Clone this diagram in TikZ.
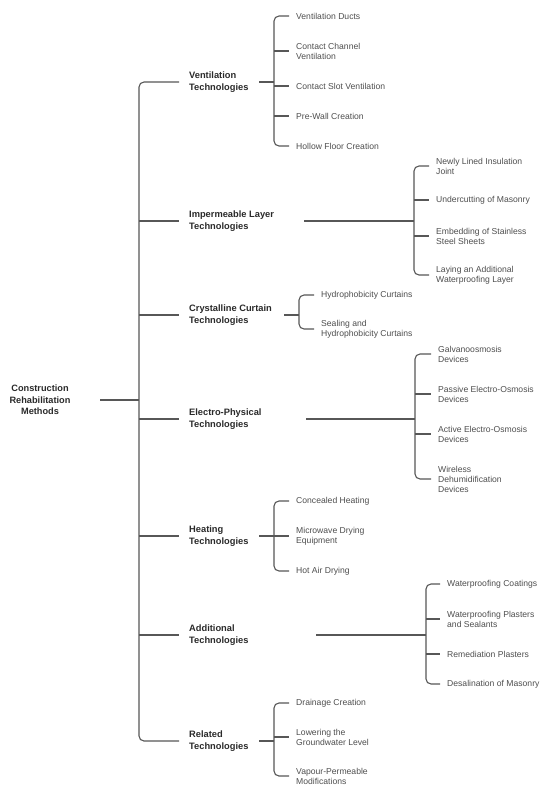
\documentclass[tikz,border=0pt]{standalone}
\usepackage{fontspec}
\setmainfont{Liberation Sans}
\definecolor{lncol}{HTML}{575757}
\definecolor{catcol}{HTML}{2A2A2A}
\definecolor{leafcol}{HTML}{4F4F4F}
\begin{document}
\begin{tikzpicture}[x=1pt,y=-1pt,
  ln/.style={draw=lncol, line width=1.1pt},
  br/.style={ln, rounded corners=5pt},
  rootbox/.style={minimum width=120pt, inner xsep=0pt, inner ysep=0pt, align=center, font=\fontsize{9.2}{11.5}\selectfont\bfseries, text=catcol},
  cat/.style={anchor=west, inner xsep=10pt, inner ysep=0pt, align=left, font=\fontsize{9.3}{12}\selectfont\bfseries, text=catcol},
  leaf/.style={anchor=west, inner xsep=7pt, inner ysep=0pt, align=left, font=\fontsize{8.6}{10}\selectfont, text=leafcol}
]
\useasboundingbox[fill=white] (0,0) rectangle (550,793);

% root
\node[rootbox] (root) at (40,400) {Construction\\Rehabilitation\\Methods};
\coordinate (trunk) at (139,400);

% categories
\node[cat] (vent) at (179,82) {Ventilation\\Technologies};
\node[cat] (imp) at (179,221) {Impermeable Layer\\Technologies};
\node[cat] (cry) at (179,315) {Crystalline Curtain\\Technologies};
\node[cat] (ele) at (179,419) {Electro-Physical\\Technologies};
\node[cat] (hea) at (179,536) {Heating\\Technologies};
\node[cat] (add) at (179,635) {Additional\\Technologies};
\node[cat] (rel) at (179,741) {Related\\Technologies};

\draw[ln] (root.east) -- (trunk);
\draw[br] (vent.west) -- (vent.west -| trunk) -- (rel.west -| trunk) -- (rel.west);
\foreach \c in {imp,cry,ele,hea,add} \draw[ln] (\c.west -| trunk) -- (\c.west);

% outgoing lines of categories
\coordinate (ventO) at (259,82);  \coordinate (ventJ) at (274,82);
\coordinate (impO) at (304,221);  \coordinate (impJ) at (414,221);
\coordinate (cryO) at (284,315);  \coordinate (cryJ) at (299,315);
\coordinate (eleO) at (306,419);  \coordinate (eleJ) at (415,419);
\coordinate (heaO) at (259,536);  \coordinate (heaJ) at (274,536);
\coordinate (addO) at (316,635);  \coordinate (addJ) at (426,635);
\coordinate (relO) at (259,741);  \coordinate (relJ) at (274,741);
\foreach \c in {vent,imp,cry,ele,hea,add,rel} \draw[ln] (\c O) -- (\c J);

% Ventilation leaves
\node[leaf] (v1) at (289,16) {Ventilation Ducts};
\node[leaf] (v2) at (289,51) {Contact Channel\\Ventilation};
\node[leaf] (v3) at (289,86) {Contact Slot Ventilation};
\node[leaf] (v4) at (289,116) {Pre-Wall Creation};
\node[leaf] (v5) at (289,146) {Hollow Floor Creation};
\draw[br] (v1.west) -- (v1.west -| ventJ) -- (v5.west -| ventJ) -- (v5.west);
\foreach \c in {v2,v3,v4} \draw[ln] (\c.west -| ventJ) -- (\c.west);

% Impermeable leaves
\node[leaf] (i1) at (429,166) {Newly Lined Insulation\\Joint};
\node[leaf] (i2) at (429,200) {Undercutting of Masonry};
\node[leaf] (i3) at (429,236) {Embedding of Stainless\\Steel Sheets};
\node[leaf] (i4) at (429,275) {Laying an Additional\\Waterproofing Layer};
\draw[br] (i1.west) -- (i1.west -| impJ) -- (i4.west -| impJ) -- (i4.west);
\foreach \c in {i2,i3} \draw[ln] (\c.west -| impJ) -- (\c.west);

% Crystalline leaves
\node[leaf] (c1) at (314,295) {Hydrophobicity Curtains};
\node[leaf] (c2) at (314,329) {Sealing and\\Hydrophobicity Curtains};
\draw[br] (c1.west) -- (c1.west -| cryJ) -- (c2.west -| cryJ) -- (c2.west);

% Electro-Physical leaves
\node[leaf] (e1) at (431,354) {Galvanoosmosis\\Devices};
\node[leaf] (e2) at (431,394) {Passive Electro-Osmosis\\Devices};
\node[leaf] (e3) at (431,434) {Active Electro-Osmosis\\Devices};
\node[leaf] (e4) at (431,479) {Wireless\\Dehumidification\\Devices};
\draw[br] (e1.west) -- (e1.west -| eleJ) -- (e4.west -| eleJ) -- (e4.west);
\foreach \c in {e2,e3} \draw[ln] (\c.west -| eleJ) -- (\c.west);

% Heating leaves
\node[leaf] (h1) at (289,501) {Concealed Heating};
\node[leaf] (h2) at (289,536) {Microwave Drying\\Equipment};
\node[leaf] (h3) at (289,571) {Hot Air Drying};
\draw[br] (h1.west) -- (h1.west -| heaJ) -- (h3.west -| heaJ) -- (h3.west);
\draw[ln] (h2.west -| heaJ) -- (h2.west);

% Additional leaves
\node[leaf] (a1) at (440,584) {Waterproofing Coatings};
\node[leaf] (a2) at (440,619) {Waterproofing Plasters\\and Sealants};
\node[leaf] (a3) at (440,654) {Remediation Plasters};
\node[leaf] (a4) at (440,684) {Desalination of Masonry};
\draw[br] (a1.west) -- (a1.west -| addJ) -- (a4.west -| addJ) -- (a4.west);
\foreach \c in {a2,a3} \draw[ln] (\c.west -| addJ) -- (\c.west);

% Related leaves
\node[leaf] (r1) at (289,703) {Drainage Creation};
\node[leaf] (r2) at (289,737) {Lowering the\\Groundwater Level};
\node[leaf] (r3) at (289,776) {Vapour-Permeable\\Modifications};
\draw[br] (r1.west) -- (r1.west -| relJ) -- (r3.west -| relJ) -- (r3.west);
\draw[ln] (r2.west -| relJ) -- (r2.west);
\end{tikzpicture}
\end{document}
